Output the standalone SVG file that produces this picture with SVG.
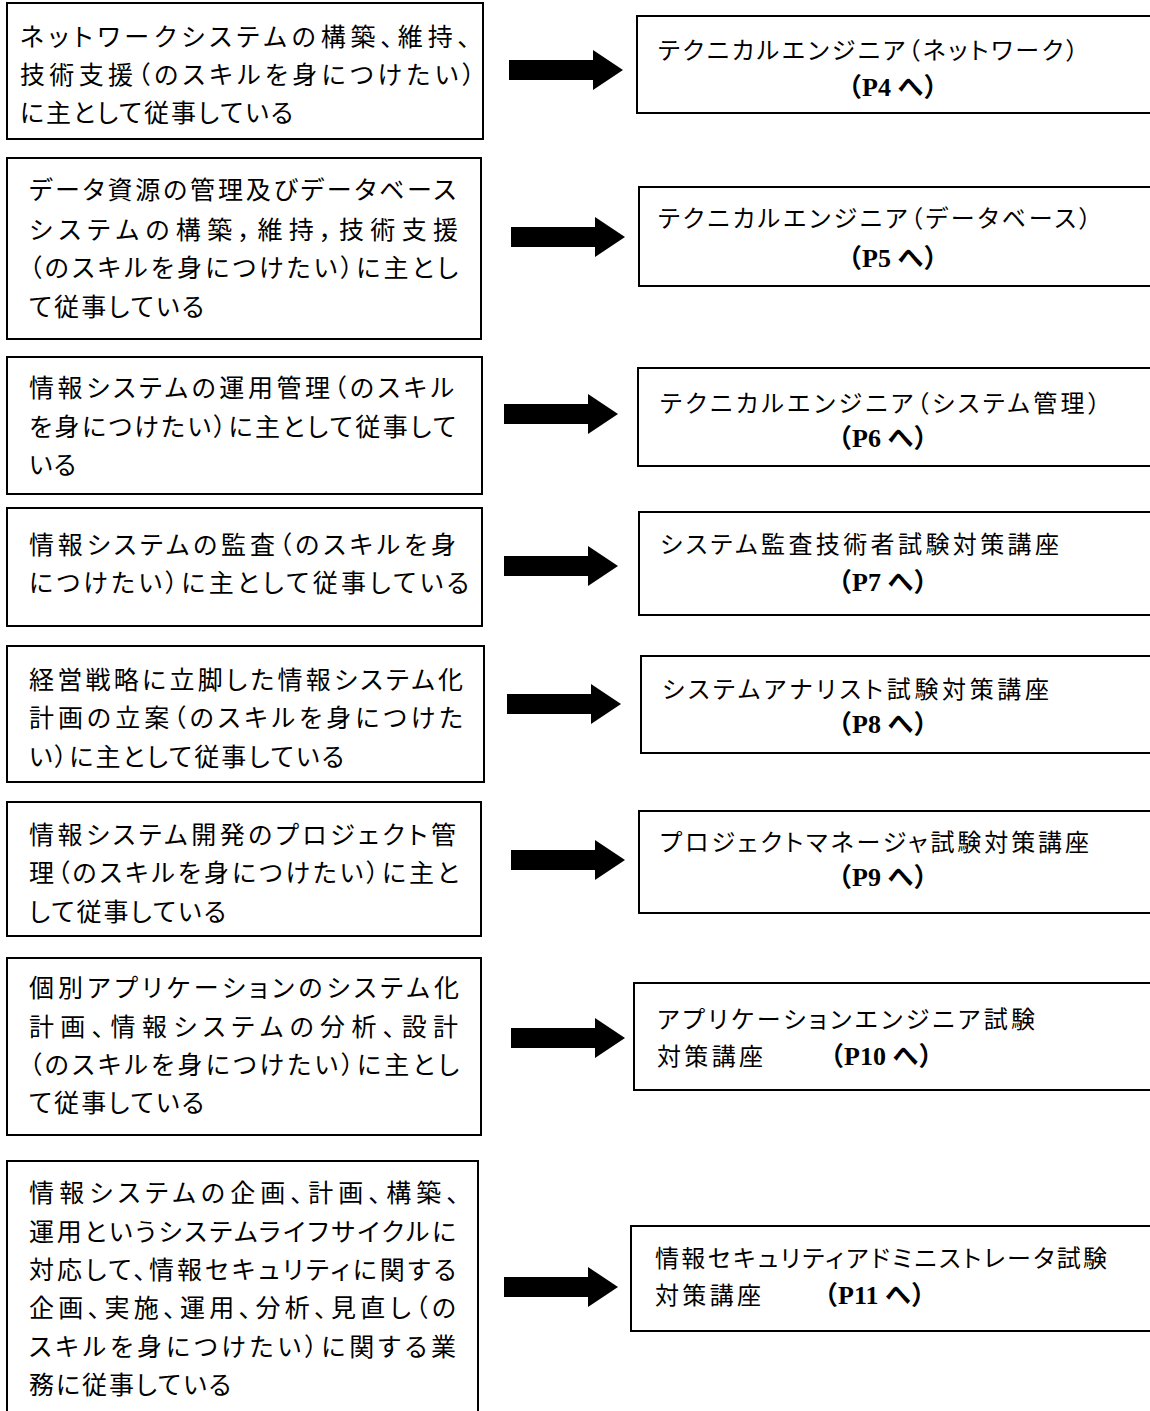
<svg xmlns="http://www.w3.org/2000/svg" xmlns:xlink="http://www.w3.org/1999/xlink" width="1150" height="1411" viewBox="0 0 1150 1411">
<style>
.box{fill:#fff;stroke:#000;stroke-width:2}
.t{font-family:"Noto Sans CJK JP","Noto Sans",sans-serif;font-size:25px;fill:#000;font-feature-settings:"palt" 1}
.r{font-family:"Noto Sans CJK JP","Noto Sans",sans-serif;font-size:24px;fill:#000;font-feature-settings:"palt" 1}
.j{font-family:"Liberation Serif","Noto Sans CJK JP",serif;font-size:26px;font-weight:bold;fill:#000}
.arr{fill:#000}
</style>
<defs>
<path id="arrow" d="M0,-10 H84 V-20 L114,0 L84,20 V10 H0 Z"/>
</defs>
<rect width="1150" height="1411" fill="#fff"/>

<g id="connectors">
<use xlink:href="#arrow" class="arr" transform="translate(509,70)"/>
<use xlink:href="#arrow" class="arr" transform="translate(511,237)"/>
<use xlink:href="#arrow" class="arr" transform="translate(504,414)"/>
<use xlink:href="#arrow" class="arr" transform="translate(504,566)"/>
<use xlink:href="#arrow" class="arr" transform="translate(507,704)"/>
<use xlink:href="#arrow" class="arr" transform="translate(511,860)"/>
<use xlink:href="#arrow" class="arr" transform="translate(511,1038)"/>
<use xlink:href="#arrow" class="arr" transform="translate(504,1287)"/>
</g>

<g id="src1">
<rect class="box" x="7" y="3" width="476" height="136"/>
<text class="t" x="20" y="46" textLength="450" lengthAdjust="spacing">ネットワークシステムの構築、維持、</text>
<text class="t" x="20" y="84" textLength="455" lengthAdjust="spacing">技術支援（のスキルを身につけたい）</text>
<text class="t" x="20" y="122" textLength="273" lengthAdjust="spacing">に主として従事している</text>
</g>

<g id="src2">
<rect class="box" x="7" y="158" width="474" height="181"/>
<text class="t" x="29" y="199" textLength="427" lengthAdjust="spacing">データ資源の管理及びデータベース</text>
<text class="t" x="29" y="239" textLength="429" lengthAdjust="spacing">システムの構築，維持，技術支援</text>
<text class="t" x="29" y="277" textLength="429" lengthAdjust="spacing">（のスキルを身につけたい）に主とし</text>
<text class="t" x="29" y="316" textLength="175" lengthAdjust="spacing">て従事している</text>
</g>

<g id="src3">
<rect class="box" x="7" y="357" width="475" height="137"/>
<text class="t" x="29" y="397" textLength="425" lengthAdjust="spacing">情報システムの運用管理（のスキル</text>
<text class="t" x="29" y="436" textLength="427" lengthAdjust="spacing">を身につけたい）に主として従事して</text>
<text class="t" x="29" y="474" textLength="47" lengthAdjust="spacing">いる</text>
</g>

<g id="src4">
<rect class="box" x="7" y="508" width="475" height="118"/>
<text class="t" x="29" y="554" textLength="427" lengthAdjust="spacing">情報システムの監査（のスキルを身</text>
<text class="t" x="29" y="592" textLength="440" lengthAdjust="spacing">につけたい）に主として従事している</text>
</g>

<g id="src5">
<rect class="box" x="7" y="646" width="477" height="136"/>
<text class="t" x="29" y="689" textLength="434" lengthAdjust="spacing">経営戦略に立脚した情報システム化</text>
<text class="t" x="29" y="727" textLength="434" lengthAdjust="spacing">計画の立案（のスキルを身につけた</text>
<text class="t" x="29" y="766" textLength="315" lengthAdjust="spacing">い）に主として従事している</text>
</g>

<g id="src6">
<rect class="box" x="7" y="802" width="474" height="134"/>
<text class="t" x="29" y="844" textLength="427" lengthAdjust="spacing">情報システム開発のプロジェクト管</text>
<text class="t" x="29" y="882" textLength="430" lengthAdjust="spacing">理（のスキルを身につけたい）に主と</text>
<text class="t" x="29" y="921" textLength="197" lengthAdjust="spacing">して従事している</text>
</g>

<g id="src7">
<rect class="box" x="7" y="958" width="474" height="177"/>
<text class="t" x="29" y="997" textLength="430" lengthAdjust="spacing">個別アプリケーションのシステム化</text>
<text class="t" x="29" y="1036" textLength="429" lengthAdjust="spacing">計画、情報システムの分析、設計</text>
<text class="t" x="29" y="1074" textLength="430" lengthAdjust="spacing">（のスキルを身につけたい）に主とし</text>
<text class="t" x="29" y="1112" textLength="175" lengthAdjust="spacing">て従事している</text>
</g>

<g id="src8">
<rect class="box" x="7" y="1161" width="471" height="270"/>
<text class="t" x="29" y="1202" textLength="430" lengthAdjust="spacing">情報システムの企画、計画、構築、</text>
<text class="t" x="29" y="1241" textLength="427" lengthAdjust="spacing">運用というシステムライフサイクルに</text>
<text class="t" x="29" y="1279" textLength="427" lengthAdjust="spacing">対応して、情報セキュリティに関する</text>
<text class="t" x="29" y="1317" textLength="427" lengthAdjust="spacing">企画、実施、運用、分析、見直し（の</text>
<text class="t" x="29" y="1356" textLength="427" lengthAdjust="spacing">スキルを身につけたい）に関する業</text>
<text class="t" x="29" y="1394" textLength="202" lengthAdjust="spacing">務に従事している</text>
</g>

<g id="dst1">
<rect class="box" x="637" y="16" width="530" height="97"/>
<text class="r" x="658" y="59" textLength="420" lengthAdjust="spacing">テクニカルエンジニア（ネットワーク）</text>
<text class="j" x="836" y="96">（P4 へ）</text>
</g>

<g id="dst2">
<rect class="box" x="639" y="187" width="530" height="99"/>
<text class="r" x="658" y="227" textLength="433" lengthAdjust="spacing">テクニカルエンジニア（データベース）</text>
<text class="j" x="836" y="267">（P5 へ）</text>
</g>

<g id="dst3">
<rect class="box" x="638" y="368" width="530" height="98"/>
<text class="r" x="660" y="412" textLength="440" lengthAdjust="spacing">テクニカルエンジニア（システム管理）</text>
<text class="j" x="826" y="447">（P6 へ）</text>
</g>

<g id="dst4">
<rect class="box" x="639" y="512" width="530" height="103"/>
<text class="r" x="660" y="553" textLength="399" lengthAdjust="spacing">システム監査技術者試験対策講座</text>
<text class="j" x="826" y="591">（P7 へ）</text>
</g>

<g id="dst5">
<rect class="box" x="641" y="656" width="530" height="97"/>
<text class="r" x="662" y="698" textLength="387" lengthAdjust="spacing">システムアナリスト試験対策講座</text>
<text class="j" x="826" y="733">（P8 へ）</text>
</g>

<g id="dst6">
<rect class="box" x="639" y="811" width="530" height="102"/>
<text class="r" x="660" y="851" textLength="429" lengthAdjust="spacing">プロジェクトマネージャ試験対策講座</text>
<text class="j" x="826" y="886">（P9 へ）</text>
</g>

<g id="dst7">
<rect class="box" x="634" y="983" width="530" height="107"/>
<text class="r" x="657" y="1028" textLength="378" lengthAdjust="spacing">アプリケーションエンジニア試験</text>
<text class="r" x="657" y="1065" textLength="106" lengthAdjust="spacing">対策講座</text>
<text class="j" x="818" y="1065">（P10 へ）</text>
</g>

<g id="dst8">
<rect class="box" x="631" y="1226" width="530" height="105"/>
<text class="r" x="655" y="1267" textLength="452" lengthAdjust="spacing">情報セキュリティアドミニストレータ試験</text>
<text class="r" x="655" y="1304" textLength="106" lengthAdjust="spacing">対策講座</text>
<text class="j" x="812" y="1304">（P11 へ）</text>
</g>
</svg>
